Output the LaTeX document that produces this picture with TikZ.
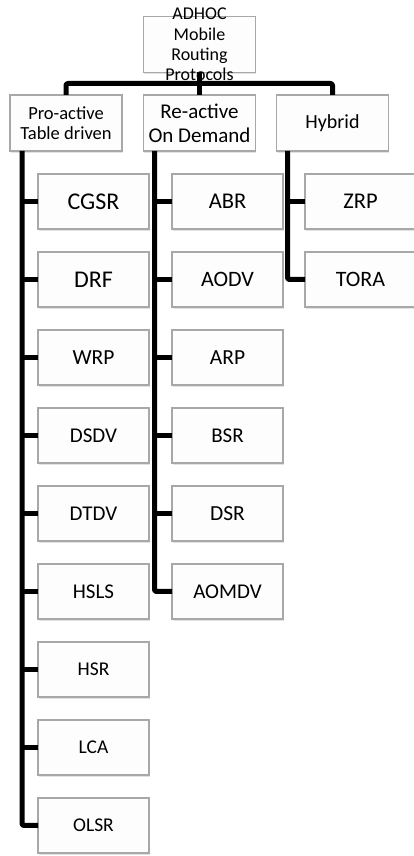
\documentclass[tikz,border=0pt]{standalone}
\usepackage{fontspec}
\setmainfont{Carlito}
\usepackage{tikz}
\usetikzlibrary{positioning,calc,shadows}
\definecolor{boxedge}{RGB}{168,168,168}
\definecolor{boxfill}{RGB}{253,253,253}
\newcommand{\lsize}[1]{\fontsize{#1}{#1}\selectfont}
\tikzset{
  leaf/.style  = {draw=boxedge, fill=boxfill, line width=1.1pt, outer sep=0pt, inner sep=0pt,
                  minimum width=111pt, minimum height=55pt,
                  drop shadow={opacity=0.22, shadow xshift=0.6pt, shadow yshift=-1.8pt}},
  cat/.style   = {leaf, minimum width=112pt, minimum height=56pt, align=center},
  link/.style  = {line width=5pt, rounded corners=2pt, line join=round},
}

\begin{document}
\begin{tikzpicture}[x=1pt, y=1pt]
  \useasboundingbox (0,0) rectangle (413,856);
  % top of the tree
  \node[cat] (root) at (199.5,811.5) {};
  \node[align=center, font={\fontsize{18}{20.3}\selectfont}] (roottext) at (root) {ADHOC\\Mobile\\Routing\\Protocols};
  \node[cat, font={\fontsize{18.5}{20}\selectfont}] (pro) at (66,733) {Pro-active\\Table driven};
  \node[cat, font={\fontsize{21}{23.7}\selectfont}] (re) at (199.5,733) {Re-active\\On Demand};
  \node[cat, font=\lsize{20}] (hy) at (332.5,733) {Hybrid};
  % pro-active protocols
  \node[leaf, font=\lsize{24}] (cgsr) at (93.5,654.5) {CGSR};
  \node[leaf, below=23pt of cgsr, font=\lsize{24}] (drf) {DRF};
  \node[leaf, below=23pt of drf, font=\lsize{21.5}] (wrp) {WRP};
  \node[leaf, below=23pt of wrp, font=\lsize{21}] (dsdv) {DSDV};
  \node[leaf, below=23pt of dsdv, font=\lsize{21}] (dtdv) {DTDV};
  \node[leaf, below=23pt of dtdv, font=\lsize{21}] (hsls) {HSLS};
  \node[leaf, below=23pt of hsls, font=\lsize{19.5}] (hsr) {HSR};
  \node[leaf, below=23pt of hsr, font=\lsize{19.5}] (lca) {LCA};
  \node[leaf, below=23pt of lca, font=\lsize{19.5}] (olsr) {OLSR};
  % re-active protocols
  \node[leaf, font=\lsize{22.5}] (abr) at (227.5,654.5) {ABR};
  \node[leaf, below=23pt of abr, font=\lsize{22}] (aodv) {AODV};
  \node[leaf, below=23pt of aodv, font=\lsize{21.5}] (arp) {ARP};
  \node[leaf, below=23pt of arp, font=\lsize{21}] (bsr) {BSR};
  \node[leaf, below=23pt of bsr, font=\lsize{21.5}] (dsr) {DSR};
  \node[leaf, below=23pt of dsr, font=\lsize{21}] (aomdv) {AOMDV};
  % hybrid protocols
  \node[leaf, font=\lsize{22.5}] (zrp) at (360.5,654.5) {ZRP};
  \node[leaf, below=23pt of zrp, font=\lsize{22}] (tora) {TORA};

  % connectors
  \coordinate (bus) at ($(root.south)+(0,-11)$);
  \coordinate (prospine) at ($(pro.south west)+(12,0)$);
  \coordinate (respine) at ($(re.south west)+(11,0)$);
  \coordinate (hyspine) at ($(hy.south west)+(11,0)$);
  \draw[link] (pro.north) |- (bus) -| (hy.north);
  \draw[link] (root.south) -- (re.north);
  \draw[link] (prospine) |- (olsr.west);
  \draw[link] (respine) |- (aomdv.west);
  \draw[link] (hyspine) |- (tora.west);
  \foreach \n in {cgsr,drf,wrp,dsdv,dtdv,hsls,hsr,lca}
    \draw[link] (\n.west) -- (\n.west -| prospine);
  \foreach \n in {abr,aodv,arp,bsr,dsr}
    \draw[link] (\n.west) -- (\n.west -| respine);
  \draw[link] (zrp.west) -- (zrp.west -| hyspine);
\end{tikzpicture}
\end{document}
